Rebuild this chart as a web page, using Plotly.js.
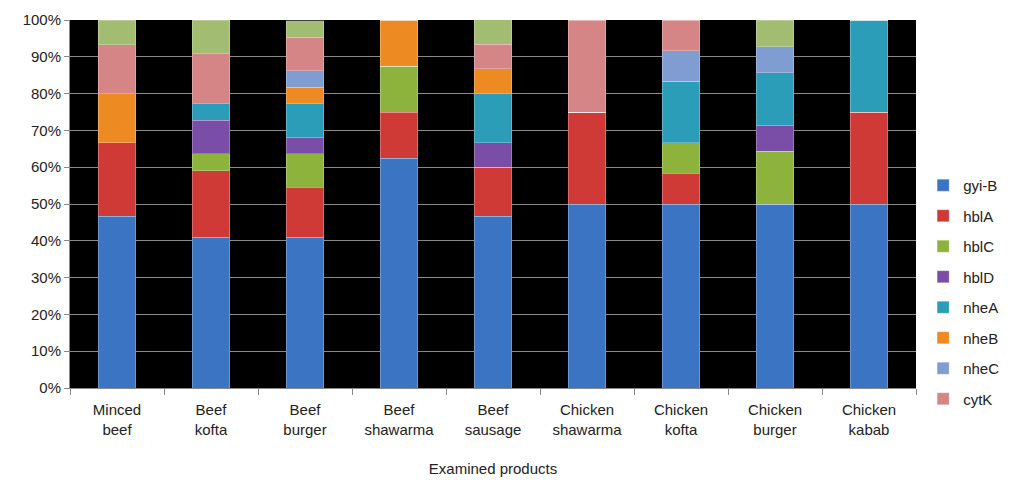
<!DOCTYPE html>
<html><head><meta charset="utf-8">
<script src="https://cdn.plot.ly/plotly-3.0.1.min.js"></script>
<style>body{margin:0;background:#fff}#chart{width:1010px;height:480px}</style>
</head><body><div id="chart"></div>
<script>
const categories = ["Minced<br>beef","Beef<br>kofta","Beef<br>burger","Beef<br>shawarma","Beef<br>sausage","Chicken<br>shawarma","Chicken<br>kofta","Chicken<br>burger","Chicken<br>kabab"];
const seriesNames = ["gyi-B","hblA","hblC","hblD","nheA","nheB","nheC","cytK","other"];
const gyiB = [46.7,40.9,40.9,62.5,46.7,50,50,50,50];
const hblA = [20,18.2,13.6,12.5,13.3,25,8.3,0,25];
const hblC = [0,4.5,9.1,12.5,0,0,8.3,14.3,0];
const hblD = [0,9.1,4.5,0,6.7,0,0,7.1,0];
const nheA = [0,4.5,9.1,0,13.3,0,16.7,14.3,25];
const nheB = [13.3,0,4.5,12.5,6.7,0,0,0,0];
const nheC = [0,0,4.5,0,0,0,8.3,7.1,0];
const cytK = [13.3,13.6,9.1,0,6.7,25,8.3,0,0];
const other = [6.7,9.1,4.5,0,6.7,0,0,7.1,0];
const seriesValues = [gyiB,hblA,hblC,hblD,nheA,nheB,nheC,cytK,other];
const colors = ["#3a74c2","#cf3a36","#8db33c","#7a4ea6","#2b9db9","#ee8a22","#7f9dd0","#d68586","#a2bd72"];
const yTicks = [0,10,20,30,40,50,60,70,80,90,100];

const traces = seriesNames.map((n,i)=>({
  type:'bar', name:n, x:categories, y:seriesValues[i],
  marker:{color:colors[i], line:{color:'rgba(255,255,255,0.25)', width:1}},
  showlegend: i<8, legendgroup:'g'+i, hoverinfo:'name+y'
}));

const layout = {
  width:1010, height:480,
  margin:{l:70,r:94,t:20,b:92},
  barmode:'stack', bargap:0.6,
  paper_bgcolor:'#fff', plot_bgcolor:'#000',
  font:{family:'Liberation Sans, Arial, sans-serif', size:15, color:'#222'},
  xaxis:{
    title:{text:'Examined products', font:{size:15}, standoff:26},
    showline:true, linecolor:'#888', ticks:'outside', ticklen:6, tickcolor:'#888',
    tickson:'boundaries', showgrid:false, tickfont:{size:15}, ticklabelstandoff:8
  },
  yaxis:{
    range:[0,100], tickvals:yTicks, ticktext:yTicks.map(v=>v+'%'),
    showgrid:true, gridcolor:'#8a8a8a', gridwidth:1,
    showline:true, linecolor:'#888', ticks:'outside', ticklen:5, tickcolor:'#888',
    zeroline:false, tickfont:{size:15}
  },
  legend:{xref:'container', yref:'container', x:0.914, xanchor:'left', y:0.648, yanchor:'top',
    font:{size:15,color:'#222'}, tracegroupgap:8, itemwidth:30, bgcolor:'rgba(0,0,0,0)'},
};
Plotly.newPlot('chart', traces, layout, {displayModeBar:false, staticPlot:true});
</script></body></html>
